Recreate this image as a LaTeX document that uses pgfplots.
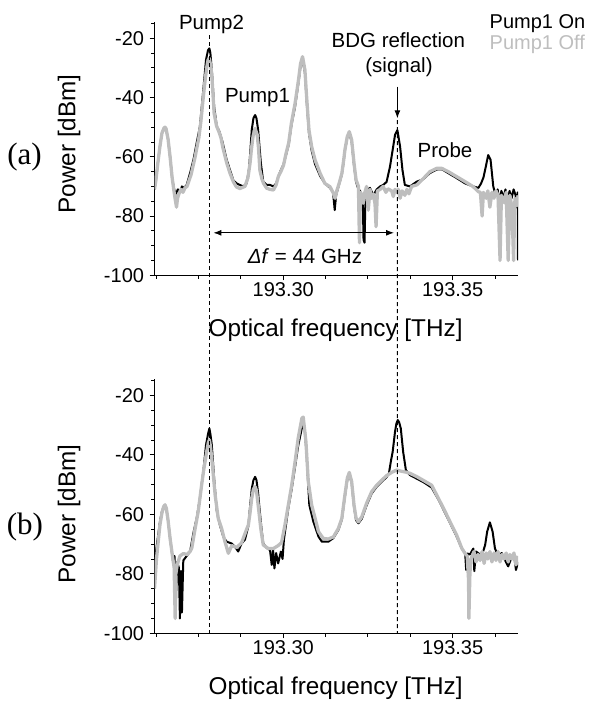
\documentclass[border=0pt]{standalone}
\usepackage{fontspec}
\setmainfont{Liberation Sans}
\newfontfamily\timesfont{Liberation Serif}
\usepackage{pgfplots}
\pgfplotsset{compat=1.18}
\usetikzlibrary{arrows.meta}
\definecolor{offgray}{RGB}{190,190,190}
\newcommand\annfont{\fontsize{20.5bp}{24bp}\selectfont}
\newcommand\legfont{\fontsize{20bp}{24bp}\selectfont}
\newcommand\labfont{\fontsize{24.3bp}{28bp}\selectfont}
\pgfplotsset{
  panel/.style={
    scale only axis, width=363.5bp,
    xmin=193.2620, xmax=193.3693, ymin=-100,
    axis lines=left, axis line style={-, line width=1.1bp},
    x axis line style={-}, y axis line style={-},
    xtick={193.30,193.35}, xticklabels={193.30,193.35},
    minor xtick={193.2625,193.275,193.2875,193.3125,193.325,193.3375,193.3625},
    ytick={-100,-80,-60,-40,-20}, yticklabels={-100,-80,-60,-40,-20},
    minor ytick={-95,-90,-85,-75,-70,-65,-55,-50,-45,-35,-30,-25,-15},
    tick align=outside, major tick length=5bp, minor tick length=3.5bp,
    every tick/.style={black, line width=0.9bp},
    tick label style={font=\fontsize{20bp}{24bp}\selectfont},
    yticklabel style={xshift=-2bp},
    xticklabel style={yshift=1bp},
  },
  onstyle/.style={black, line width=2bp, line join=round, mark=none},
  offstyle/.style={offgray, line width=3.3bp, line join=round, mark=none},
}
\begin{document}
\begin{tikzpicture}
\useasboundingbox (0bp,0bp) rectangle (589bp,-702bp);

% ---------------- panel (a) ----------------
\begin{axis}[panel, at={(154.5bp,-275.3bp)}, anchor=south west, height=253.6bp, ymax=-14.4]
\addplot[onstyle] coordinates {
(193.2620,-71)(193.2624,-68)(193.2630,-62)(193.2636,-56.5)(193.2642,-52)(193.2648,-50.3)(193.2651,-50)(193.2654,-50.5)(193.2660,-54)(193.2666,-60)(193.2672,-67)(193.2678,-71)(193.2683,-72.5)(193.2689,-71)(193.2695,-72)(193.2701,-70)(193.2707,-70.5)(193.2715,-69.5)(193.2725,-65.5)(193.2735,-61)(193.2745,-55)(193.2754,-49.8)(193.2764,-37.5)(193.2772,-27.3)(193.2778,-24)(193.2782,-23.4)(193.2785,-25)(193.2790,-32)(193.2796,-43)(193.2804,-49.9)(193.2810,-51)(193.2813,-52)(193.2821,-55.1)(193.2833,-61)(193.2843,-64.5)(193.2853,-68)(193.2863,-69)(193.2872,-69.5)(193.2882,-70)(193.2892,-69)(193.2899,-64)(193.2903,-58)(193.2907,-51)(193.2912,-47)(193.2917,-45.9)(193.2921,-47)(193.2926,-51)(193.2934,-62.2)(193.2941,-68.4)(193.2951,-69.5)(193.2961,-69.5)(193.2971,-70)(193.2979,-69)(193.2986,-66.5)(193.2993,-64.5)(193.3001,-62.5)(193.3008,-59.5)(193.3016,-56)(193.3024,-49.5)(193.3035,-43)(193.3045,-35)(193.3051,-29.5)(193.3057,-27.5)(193.3064,-31.5)(193.3069,-41)(193.3076,-52)(193.3084,-58)(193.3094,-62.5)(193.3109,-66.5)(193.3123,-69)(193.3138,-70.5)(193.3147,-72)(193.3152,-78)(193.3156,-73)(193.3162,-70.5)(193.3173,-66)(193.3178,-62)(193.3182,-58)(193.3189,-53.5)(193.3195,-52)(193.3202,-55)(193.3209,-63)(193.3215,-68.5)(193.3222,-71)(193.3227,-71.5)(193.3235,-75.5)(193.3237,-88)(193.3240,-89)(193.3243,-72)(193.3250,-71)(193.3256,-70.5)(193.3266,-73)(193.3276,-71)(193.3286,-70)(193.3295,-69.5)(193.3305,-68.5)(193.3315,-63.4)(193.3323,-57.7)(193.3330,-52.6)(193.3337,-51)(193.3345,-56.6)(193.3352,-64.5)(193.3359,-69.5)(193.3374,-70)(193.3394,-68.4)(193.3414,-67.5)(193.3433,-65.5)(193.3453,-64.3)(193.3468,-64.2)(193.3487,-65.5)(193.3512,-67.2)(193.3537,-69)(193.3561,-70)(193.3576,-70.5)(193.3584,-69)(193.3591,-67)(193.3598,-63.3)(193.3605,-59.4)(193.3612,-61)(193.3620,-70)(193.3627,-73)(193.3633,-71)(193.3638,-75.5)(193.3644,-71.5)(193.3650,-74)(193.3656,-71)(193.3662,-76)(193.3668,-71.5)(193.3674,-74)(193.3680,-71)(193.3686,-73)(193.3689,-77)(193.3692,-72)(193.3693,-95)
};
\addplot[offstyle] coordinates {
(193.2620,-71)(193.2624,-68)(193.2630,-62)(193.2636,-56.5)(193.2642,-52)(193.2648,-50.3)(193.2651,-50)(193.2654,-50.5)(193.2660,-54)(193.2666,-60)(193.2672,-67)(193.2678,-72)(193.2682,-75)(193.2685,-77)(193.2688,-74)(193.2692,-72.5)(193.2698,-71)(193.2704,-72)(193.2710,-70.5)(193.2716,-70)(193.2722,-68)(193.2728,-66)(193.2734,-63)(193.2740,-60)(193.2745,-57)(193.2751,-53.5)(193.2757,-48)(193.2763,-41)(193.2769,-34.5)(193.2774,-30)(193.2778,-27.3)(193.2782,-26.8)(193.2787,-30)(193.2790,-34)(193.2796,-45.3)(193.2803,-49.5)(193.2810,-51.5)(193.2816,-53.5)(193.2822,-57)(193.2833,-62)(193.2843,-65.6)(193.2853,-68.5)(193.2862,-70.2)(193.2872,-70.7)(193.2887,-70)(193.2896,-67)(193.2902,-62.2)(193.2906,-57.5)(193.2911,-53)(193.2917,-50.4)(193.2923,-52.5)(193.2927,-57)(193.2931,-64.5)(193.2937,-67.5)(193.2942,-69)(193.2951,-70.6)(193.2961,-71)(193.2971,-71.2)(193.2979,-69.5)(193.2986,-66.5)(193.2993,-65)(193.3001,-62.8)(193.3008,-59)(193.3016,-55.4)(193.3024,-48.7)(193.3035,-41.9)(193.3045,-34.1)(193.3051,-28.6)(193.3057,-26.2)(193.3064,-30.7)(193.3069,-39.7)(193.3076,-51)(193.3084,-56.6)(193.3094,-61.1)(193.3109,-65.6)(193.3123,-69)(193.3138,-70.1)(193.3148,-72.3)(193.3153,-74)(193.3158,-71.5)(193.3165,-69)(193.3173,-65.6)(193.3178,-61.5)(193.3182,-57.7)(193.3189,-53.2)(193.3195,-51.5)(193.3202,-54.3)(193.3209,-62.2)(193.3215,-67.8)(193.3222,-70)(193.3225,-89)(193.3228,-72)(193.3233,-73)(193.3236,-75.7)(193.3241,-72)(193.3246,-70)(193.3251,-78)(193.3256,-71)(193.3261,-74)(193.3266,-72.5)(193.3271,-76)(193.3274,-83.6)(193.3278,-71.5)(193.3286,-71)(193.3295,-70)(193.3303,-72)(193.3309,-70.8)(193.3320,-71.5)(193.3325,-73.4)(193.3330,-71)(193.3336,-72)(193.3340,-71)(193.3345,-74)(193.3351,-71.5)(193.3359,-73)(193.3365,-71)(193.3371,-72.5)(193.3379,-70)(193.3394,-69.5)(193.3414,-67.3)(193.3433,-65)(193.3453,-63.9)(193.3468,-63.9)(193.3487,-65)(193.3512,-66.7)(193.3537,-68.4)(193.3561,-70.1)(193.3576,-71.8)(193.3582,-72)(193.3587,-80)(193.3591,-72)(193.3599,-74)(193.3604,-71.5)(193.3610,-77)(193.3616,-72)(193.3622,-74)(193.3628,-71.5)(193.3634,-73)(193.3640,-95)(193.3644,-73)(193.3652,-75.5)(193.3658,-72)(193.3664,-95)(193.3669,-73)(193.3675,-77)(193.3680,-95)(193.3684,-74)(193.3690,-76.5)(193.3693,-73)
};
\coordinate (P2top) at (axis cs:193.2782,-18.9);
\coordinate (BDGtop) at (axis cs:193.3337,-47.6);
\draw[-{Latex[length=8bp,width=6bp]}, line width=1bp] (axis cs:193.3337,-36.3) -- (axis cs:193.3337,-47.0);
\draw[{Latex[length=8bp,width=6bp]}-{Latex[length=8bp,width=6bp]}, line width=1bp] (axis cs:193.2794,-85.66) -- (axis cs:193.3327,-85.66);
\end{axis}

% ---------------- panel (b) ----------------
\begin{axis}[panel, at={(154.5bp,-633.3bp)}, anchor=south west, height=254bp, ymax=-14.6]
\addplot[onstyle] coordinates {
(193.2620,-77)(193.2626,-71)(193.2632,-66)(193.2636,-62.5)(193.2642,-59)(193.2647,-57.4)(193.2651,-56.8)(193.2655,-58)(193.2660,-62)(193.2666,-68)(193.2676,-77)(193.2679,-74)(193.2683,-89.8)(193.2687,-76)(193.2692,-78)(193.2695,-95)(193.2698,-79)(193.2701,-93)(193.2705,-75.5)(193.2715,-74)(193.2725,-72.5)(193.2735,-66.2)(193.2745,-61)(193.2754,-54.6)(193.2764,-45.7)(193.2772,-36.7)(193.2778,-33)(193.2782,-31.1)(193.2785,-33)(193.2789,-36.5)(193.2796,-47.9)(193.2804,-59.1)(193.2813,-63.6)(193.2823,-67.5)(193.2833,-69.2)(193.2848,-69.8)(193.2858,-71)(193.2867,-72.5)(193.2877,-69.8)(193.2887,-68.5)(193.2897,-64)(193.2902,-57.5)(193.2907,-51.5)(193.2912,-48.5)(193.2917,-47.4)(193.2921,-48.5)(193.2926,-53)(193.2929,-56.9)(193.2936,-65)(193.2941,-69.8)(193.2951,-71.3)(193.2961,-72)(193.2966,-77)(193.2970,-72)(193.2974,-78.2)(193.2979,-73)(193.2985,-76.5)(193.2993,-72.5)(193.2998,-75)(193.3002,-68.5)(193.3010,-62)(193.3015,-58)(193.3025,-51.5)(193.3035,-44)(193.3044,-37)(193.3055,-31)(193.3059,-30)(193.3064,-32)(193.3069,-40)(193.3077,-56.9)(193.3089,-62.5)(193.3104,-67.5)(193.3114,-69.2)(193.3133,-69.2)(193.3148,-68)(193.3163,-65.2)(193.3173,-61.8)(193.3182,-54)(193.3189,-48.5)(193.3195,-46.6)(193.3202,-49.5)(193.3209,-57.5)(193.3215,-62)(193.3222,-63)(193.3232,-61.5)(193.3246,-57)(193.3261,-53)(193.3276,-50.7)(193.3291,-49)(193.3305,-47.5)(193.3312,-46.2)(193.3318,-42)(193.3323,-39)(193.3330,-32.2)(193.3334,-29.5)(193.3338,-28.3)(193.3342,-29)(193.3347,-31.1)(193.3354,-39)(193.3362,-45.1)(193.3374,-46.8)(193.3394,-48)(193.3414,-49.2)(193.3438,-51)(193.3458,-55)(193.3478,-59.6)(193.3497,-64)(193.3512,-67.5)(193.3527,-71.5)(193.3537,-73)(193.3540,-78.7)(193.3544,-73.2)(193.3551,-73.5)(193.3561,-71.5)(193.3564,-79.1)(193.3569,-72.5)(193.3581,-73.5)(193.3590,-72.5)(193.3596,-70.3)(193.3602,-65.8)(193.3610,-62.7)(193.3618,-65.8)(193.3625,-71.5)(193.3635,-74)(193.3645,-73)(193.3655,-75.5)(193.3664,-77.5)(193.3674,-74.5)(193.3681,-73.5)(193.3687,-78.7)(193.3693,-76)
};
\addplot[offstyle] coordinates {
(193.2620,-85)(193.2626,-74.8)(193.2632,-68)(193.2636,-63.6)(193.2642,-59.5)(193.2647,-57.4)(193.2651,-56.8)(193.2655,-58)(193.2660,-62)(193.2666,-68.1)(193.2674,-74.8)(193.2678,-78)(193.2681,-95)(193.2683,-80)(193.2687,-77)(193.2695,-74)(193.2705,-73.2)(193.2716,-73.5)(193.2725,-72.5)(193.2730,-71.4)(193.2740,-64.7)(193.2749,-59.1)(193.2759,-50.2)(193.2766,-44.5)(193.2774,-39)(193.2779,-35.8)(193.2782,-35)(193.2785,-37)(193.2790,-42.3)(193.2799,-53.5)(193.2808,-61.3)(193.2818,-64.7)(193.2828,-69.2)(193.2838,-73.1)(193.2848,-70.5)(193.2863,-71.1)(193.2877,-69.6)(193.2892,-65)(193.2897,-63.6)(193.2902,-59.5)(193.2907,-54.6)(193.2912,-51.5)(193.2917,-50.7)(193.2921,-52)(193.2926,-56.9)(193.2934,-65)(193.2941,-70.3)(193.2956,-71.5)(193.2971,-71.5)(193.2985,-70.5)(193.2995,-69.5)(193.3005,-63.6)(193.3015,-56.9)(193.3025,-50.2)(193.3035,-42.3)(193.3044,-34.5)(193.3055,-27.7)(193.3059,-27.3)(193.3067,-35.6)(193.3074,-49)(193.3084,-56.9)(193.3094,-61.3)(193.3104,-65.8)(193.3118,-68.1)(193.3133,-68.3)(193.3148,-67.6)(193.3163,-64.7)(193.3173,-61.3)(193.3182,-53.5)(193.3189,-47.9)(193.3195,-45.9)(193.3202,-49)(193.3209,-56.9)(193.3215,-61.3)(193.3222,-62.5)(193.3232,-60.8)(193.3246,-56.3)(193.3261,-52.4)(193.3276,-50.2)(193.3291,-48.5)(193.3305,-47)(193.3320,-45.9)(193.3335,-45.1)(193.3348,-45.5)(193.3362,-45.8)(193.3374,-46.2)(193.3394,-47.3)(193.3414,-48.6)(193.3438,-50.2)(193.3458,-54.6)(193.3478,-59.1)(193.3497,-63.6)(193.3512,-67)(193.3527,-71.4)(193.3537,-73.2)(193.3543,-74)(193.3547,-82)(193.3548,-95)(193.3551,-80)(193.3554,-75)(193.3563,-72.5)(193.3569,-76)(193.3575,-73.5)(193.3581,-75.5)(193.3587,-72.5)(193.3593,-76.5)(193.3599,-73)(193.3604,-75)(193.3610,-72.5)(193.3616,-76)(193.3622,-73)(193.3628,-75.5)(193.3634,-72.5)(193.3640,-76)(193.3646,-73.5)(193.3652,-75)(193.3658,-73)(193.3664,-76)(193.3669,-73.5)(193.3675,-75)(193.3681,-73)(193.3687,-77)(193.3693,-74)
};
\coordinate (P2bot) at (axis cs:193.2782,-100);
\coordinate (BDGbot) at (axis cs:193.3337,-100);
\end{axis}

% dashed guide lines through both panels
\draw[line width=1bp, dash pattern=on 4bp off 3bp] (P2top) -- (P2bot);
\draw[line width=1bp, dash pattern=on 4bp off 3bp] (BDGtop) -- (BDGbot);

% annotations
\node[anchor=base, inner sep=0pt, font=\annfont] at (211.5bp,-29.5bp) {Pump2};
\node[anchor=base, inner sep=0pt, font=\annfont] at (257.5bp,-102.7bp) {Pump1};
\node[anchor=base, inner sep=0pt, font=\annfont] at (398.3bp,-47.5bp) {BDG reflection};
\node[anchor=base, inner sep=0pt, font=\annfont] at (399bp,-72bp) {(signal)};
\node[anchor=base, inner sep=0pt, font=\annfont] at (445bp,-157bp) {Probe};
\node[anchor=base west, inner sep=0pt, font=\legfont] at (489.5bp,-28bp) {Pump1 On};
\node[anchor=base west, inner sep=0pt, font=\legfont, text=offgray] at (489.5bp,-49bp) {Pump1 Off};
\node[anchor=base, inner sep=0pt, font=\annfont] at (305bp,-263.3bp) {\textit{Δf} = 44 GHz};

% axis labels
\node[rotate=90, inner sep=0pt, font=\labfont] at (69bp,-144bp) {Power [dBm]};
\node[rotate=90, inner sep=0pt, font=\labfont] at (69bp,-514bp) {Power [dBm]};
\node[anchor=base, inner sep=0pt, font=\labfont] at (335.6bp,-336.1bp) {Optical frequency [THz]};
\node[anchor=base, inner sep=0pt, font=\labfont] at (335.6bp,-694.1bp) {Optical frequency [THz]};

% panel labels
\node[anchor=base, inner sep=0pt, font=\timesfont\fontsize{31bp}{34bp}\selectfont] at (24.5bp,-164.5bp) {(a)};
\node[anchor=base, inner sep=0pt, font=\timesfont\fontsize{31bp}{34bp}\selectfont] at (25bp,-534.5bp) {(b)};
\end{tikzpicture}
\end{document}
